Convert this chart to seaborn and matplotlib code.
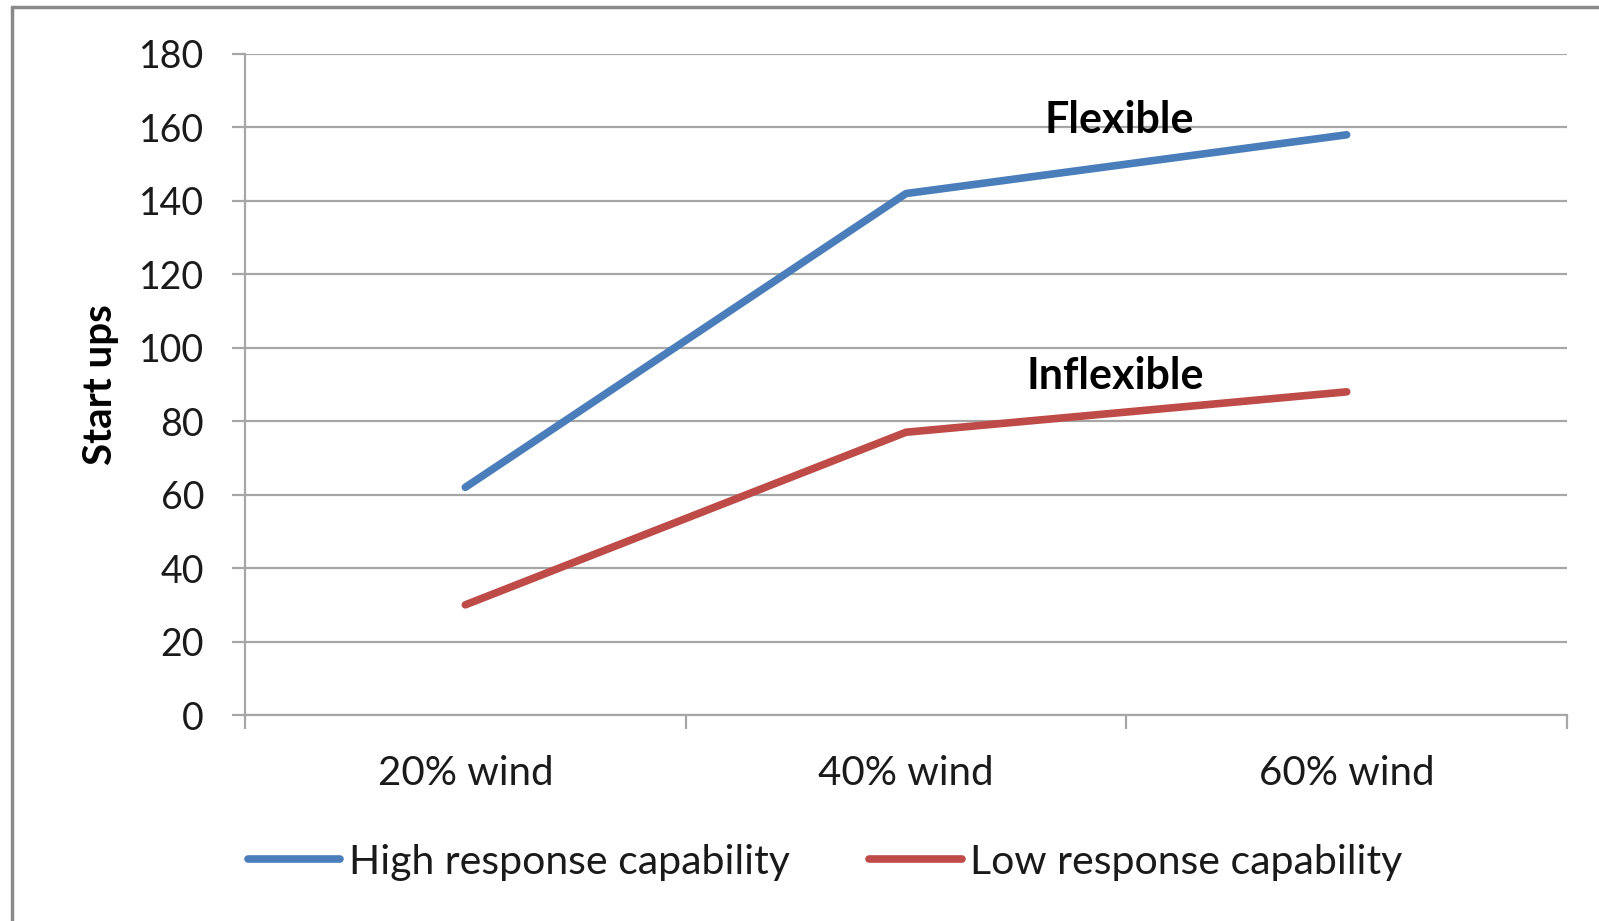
import matplotlib
matplotlib.use("Agg")
import matplotlib.pyplot as plt
from matplotlib.lines import Line2D
from matplotlib.ticker import FixedLocator, NullFormatter
import seaborn as sns
import pandas as pd

# Start-ups per wind penetration level
categories = ["20% wind", "40% wind", "60% wind"]
high_response = [62, 142, 158]
low_response = [30, 77, 88]
series_names = ["High response capability", "Low response capability"]
y_ticks = [0, 20, 40, 60, 80, 100, 120, 140, 160, 180]

df = pd.DataFrame({
    "level": categories * 2,
    "starts": high_response + low_response,
    "series": [series_names[0]] * 3 + [series_names[1]] * 3,
})

sns.set_theme(style="white")
plt.rcParams["font.family"] = ["Lato", "DejaVu Sans"]

GRID = "#a6a6a6"
TEXT = "#1a1a1a"
palette = {series_names[0]: "#4a7ebb", series_names[1]: "#be4b48"}
LW = 5.5

fig = plt.figure(figsize=(15.99, 9.21), dpi=100)
ax = fig.add_axes([245 / 1599, 1 - 715 / 921, (1567 - 245) / 1599, (715 - 54) / 921])

sns.lineplot(data=df, x="level", y="starts", hue="series", palette=palette,
             linewidth=LW, sort=False, legend=False, ax=ax,
             solid_capstyle="round", solid_joinstyle="round")

ax.set_xlim(-0.5, 2.5)
ax.set_ylim(0, 180)
ax.set_yticks(y_ticks)
ax.yaxis.grid(True, color=GRID, linewidth=1.6)
ax.set_axisbelow(True)

# category labels centred, tick marks on category boundaries
ax.set_xticks(range(len(categories)))
ax.set_xticklabels(categories)
ax.xaxis.set_minor_locator(FixedLocator([-0.5, 0.5, 1.5, 2.5]))
ax.xaxis.set_minor_formatter(NullFormatter())
ax.tick_params(axis="x", which="major", length=0, pad=29, labelsize=29, colors=TEXT)
ax.tick_params(axis="x", which="minor", bottom=True, length=10, width=1.6, color=GRID)
ax.tick_params(axis="y", left=True, length=9.5, width=1.6, color=GRID,
               pad=20, labelsize=27, colors=TEXT)

for side in ("top", "right"):
    ax.spines[side].set_visible(False)
for side in ("left", "bottom"):
    ax.spines[side].set_color(GRID)
    ax.spines[side].set_linewidth(1.6)

ax.set_xlabel("")
ax.set_ylabel("Start ups", fontsize=29, fontweight="bold", color="black", labelpad=14)

ax.text(1.485, 162.0, "Flexible", fontsize=31, fontweight="bold", ha="center", va="center",
        color="black")
ax.text(1.475, 92.4, "Inflexible", fontsize=31, fontweight="bold", ha="center", va="center",
        color="black")

handles = [Line2D([], [], color=palette[n], linewidth=LW) for n in series_names]
fig.legend(handles, series_names, loc="center", bbox_to_anchor=(0.516, 1 - 862 / 921),
           ncol=2, frameon=False, fontsize=29.5, handlelength=2.25, handletextpad=0.2,
           columnspacing=1.95, labelcolor=TEXT)

# chart frame on the top and left edges
fig.add_artist(Line2D([12 / 1599, 12 / 1599], [0, 1 - 7 / 921], transform=fig.transFigure,
                      color="#8a8a8a", linewidth=2.5))
fig.add_artist(Line2D([12 / 1599, 1], [1 - 7 / 921, 1 - 7 / 921], transform=fig.transFigure,
                      color="#8a8a8a", linewidth=2.5))

fig.savefig("out.png", dpi=100, facecolor="white")
